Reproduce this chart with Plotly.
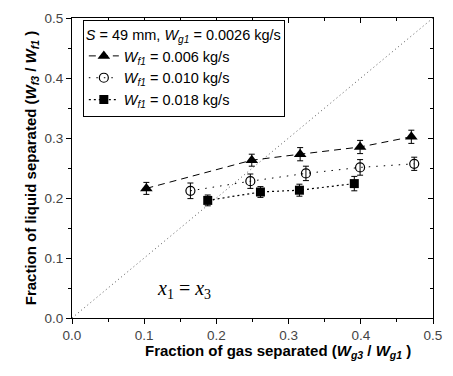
import plotly.graph_objects as go

# Data
x_tri = [0.103, 0.249, 0.316, 0.399, 0.470]
y_tri = [0.216, 0.263, 0.273, 0.285, 0.302]
e_tri = [0.010, 0.010, 0.011, 0.011, 0.011]

x_cir = [0.164, 0.247, 0.324, 0.399, 0.474]
y_cir = [0.212, 0.228, 0.241, 0.251, 0.257]
e_cir = [0.013, 0.012, 0.012, 0.013, 0.011]

x_sq = [0.188, 0.261, 0.315, 0.391]
y_sq = [0.196, 0.210, 0.213, 0.224]
e_sq = [0.009, 0.009, 0.010, 0.012]

diag = [0.0, 0.5]
ticks = [0.0, 0.1, 0.2, 0.3, 0.4, 0.5]
tick_text = ["0.0", "0.1", "0.2", "0.3", "0.4", "0.5"]

FONT = "Liberation Sans, Arial, sans-serif"

fig = go.Figure()

fig.add_trace(go.Scatter(
    x=diag, y=diag, mode="lines",
    line=dict(color="#555", width=1, dash="1px,3px"),
    showlegend=False, hoverinfo="skip"))

fig.add_trace(go.Scatter(
    x=x_tri, y=y_tri, mode="lines+markers",
    name="<i>W</i><sub><i>f1</i></sub> = 0.006 kg/s",
    line=dict(color="black", width=1, dash="7px,5px"),
    marker=dict(symbol="triangle-up", size=11, color="black"),
    error_y=dict(type="data", array=e_tri, color="black", thickness=1, width=3)))

fig.add_trace(go.Scatter(
    x=x_cir, y=y_cir, mode="lines+markers",
    name="<i>W</i><sub><i>f1</i></sub> = 0.010 kg/s",
    line=dict(color="black", width=1, dash="1.5px,6px"),
    marker=dict(symbol="circle-open", size=9, color="black", line=dict(width=1.2)),
    error_y=dict(type="data", array=e_cir, color="black", thickness=1, width=3)))

fig.add_trace(go.Scatter(
    x=x_sq, y=y_sq, mode="lines+markers",
    name="<i>W</i><sub><i>f1</i></sub> = 0.018 kg/s",
    line=dict(color="black", width=1.2, dash="2px,3px"),
    marker=dict(symbol="square", size=9, color="black"),
    error_y=dict(type="data", array=e_sq, color="black", thickness=1, width=3)))

# invisible trace for the top/right mirror axes
fig.add_trace(go.Scatter(x=[0, 0.5], y=[0, 0.5], xaxis="x2", yaxis="y2",
                         mode="markers", marker=dict(opacity=0),
                         showlegend=False, hoverinfo="skip"))

fig.add_annotation(
    x=0.155, y=0.047, xref="x", yref="y", showarrow=False,
    text="<i>x</i><sub>1</sub> = <i>x</i><sub>3</sub>",
    font=dict(family="Liberation Serif, Times New Roman, serif", size=20, color="black"))

# x-axis title (slightly right of centre, as in the reference)
fig.add_annotation(
    x=0.57, y=-0.112, xref="paper", yref="paper", showarrow=False,
    xanchor="center", yanchor="middle",
    text="<b>Fraction of gas separated (<i>W</i><sub><i>g3</i></sub> / <i>W</i><sub><i>g1</i></sub> )</b>",
    font=dict(family=FONT, size=15, color="black"))

axis_common = dict(
    range=[0, 0.5], tickvals=ticks, ticktext=tick_text,
    showgrid=False, zeroline=False, showline=True, linecolor="black", linewidth=1,
    ticks="outside", ticklen=5, tickcolor="black",
    tickfont=dict(family=FONT, size=13.5, color="#444"),
    minor=dict(ticks="outside", dtick=0.05, ticklen=3, tickcolor="black"),
)

fig.update_layout(
    width=453, height=376,
    margin=dict(l=72, r=11, t=15, b=58),
    plot_bgcolor="white", paper_bgcolor="white",
    font=dict(family=FONT, color="black"),
    xaxis=dict(**axis_common),
    yaxis=dict(**axis_common,
               title=dict(text="<b>Fraction of liquid separated (<i>W</i><sub><i>f3</i></sub> / <i>W</i><sub><i>f1</i></sub> )</b>",
                          font=dict(family=FONT, size=15, color="black"), standoff=4)),
    xaxis2=dict(range=[0, 0.5], overlaying="x", side="top", tickvals=ticks,
                showticklabels=False, showgrid=False, zeroline=False,
                showline=True, linecolor="black", linewidth=1,
                ticks="inside", ticklen=5, tickcolor="black",
                minor=dict(ticks="inside", dtick=0.05, ticklen=3, tickcolor="black")),
    yaxis2=dict(range=[0, 0.5], overlaying="y", side="right", tickvals=ticks,
                showticklabels=False, showgrid=False, zeroline=False,
                showline=True, linecolor="black", linewidth=1,
                ticks="inside", ticklen=5, tickcolor="black",
                minor=dict(ticks="inside", dtick=0.05, ticklen=3, tickcolor="black")),
    legend=dict(
        x=0.03, y=0.993, xanchor="left", yanchor="top",
        bgcolor="white", bordercolor="black", borderwidth=1,
        font=dict(family=FONT, size=14.5, color="black"),
        title=dict(text="<i>S</i> = 49 mm, <i>W</i><sub><i>g1</i></sub> = 0.0026 kg/s",
                   font=dict(family=FONT, size=14.5, color="black")),
        tracegroupgap=0, itemwidth=30,
    ),
)

fig.write_html("out.html")
